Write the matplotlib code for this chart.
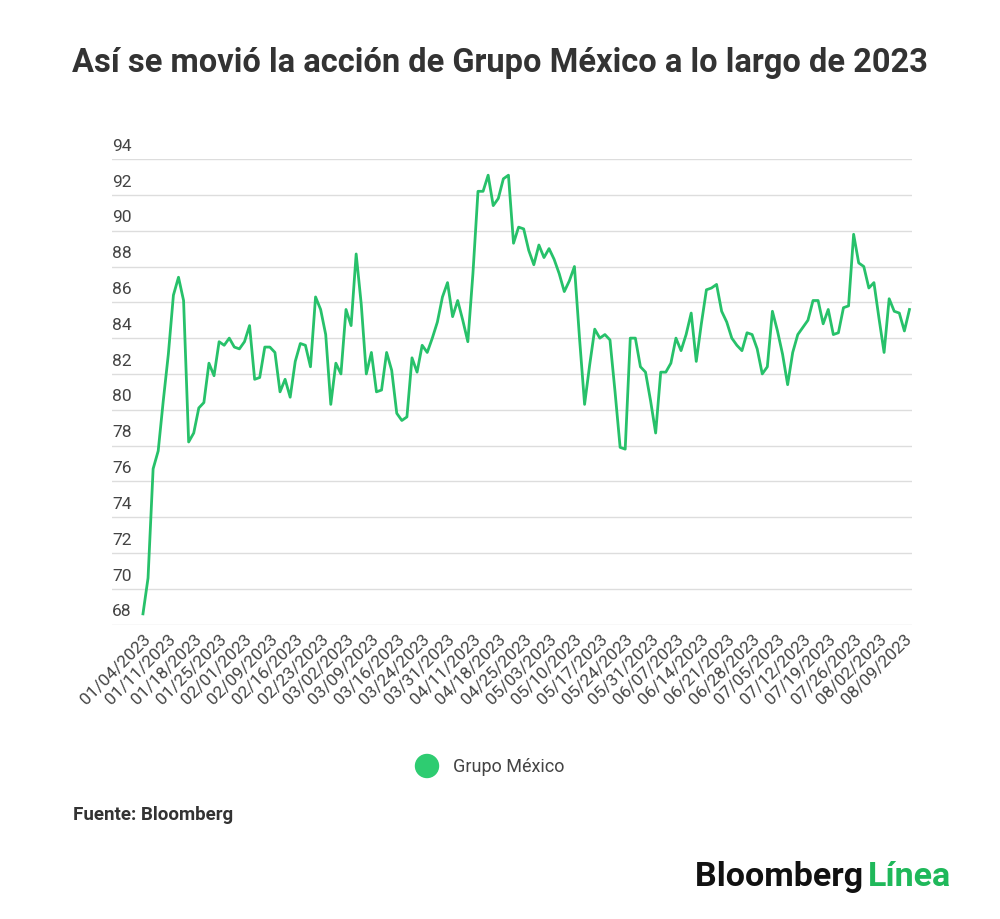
import matplotlib
matplotlib.use("Agg")
import matplotlib.pyplot as plt

values = [68.6,70.6,76.7,77.7,80.5,83.1,86.4,87.4,86.1,78.2,
          78.7,80.1,80.4,82.6,81.9,83.8,83.6,84.0,83.5,83.4,
          83.8,84.7,81.7,81.8,83.5,83.5,83.2,81.0,81.7,80.7,
          82.7,83.7,83.6,82.4,86.3,85.6,84.2,80.3,82.6,82.0,
          85.6,84.7,88.7,85.9,82.0,83.2,81.0,81.1,83.2,82.2,
          79.8,79.4,79.6,82.9,82.1,83.6,83.2,84.0,84.9,86.3,
          87.1,85.2,86.1,85.0,83.8,87.6,92.2,92.2,93.1,91.4,
          91.8,92.9,93.1,
          89.3,90.2,90.1,88.9,88.1,89.2,88.5,89.0,88.4,87.6,
          86.6,87.2,88.0,84.0,80.3,82.5,84.5,84.0,84.2,83.9,
          81.0,77.9,77.8,84.0,84.0,82.4,82.1,80.5,78.7,82.1,
          82.1,82.6,84.0,83.3,84.2,85.4,82.7,84.8,86.7,86.8,
          87.0,85.5,84.9,84.0,83.6,83.3,84.3,84.2,83.4,82.0,
          82.4,85.5,84.4,83.1,81.4,83.2,84.2,84.6,85.0,86.1,
          86.1,84.8,85.6,84.2,84.3,85.7,85.8,89.8,88.2,88.0,
          86.8,87.1,85.1,83.2,86.2,85.5,85.4,84.4,85.6]
tick_labels = ["01/04/2023","01/11/2023","01/18/2023","01/25/2023","02/01/2023",
               "02/09/2023","02/16/2023","02/23/2023","03/02/2023","03/09/2023",
               "03/16/2023","03/24/2023","03/31/2023","04/11/2023","04/18/2023",
               "04/25/2023","05/03/2023","05/10/2023","05/17/2023","05/24/2023",
               "05/31/2023","06/07/2023","06/14/2023","06/21/2023","06/28/2023",
               "07/05/2023","07/12/2023","07/19/2023","07/26/2023","08/02/2023",
               "08/09/2023"]
yticks = list(range(68, 95, 2))
green = "#2ecc71"
line_green = "#27c16a"

plt.rcParams['font.family'] = ['Roboto', 'DejaVu Sans']
fig = plt.figure(figsize=(10, 9.2), dpi=100)
ax = fig.add_axes([0.112, 0.32, 0.8, 0.506])
x = list(range(len(values)))
ax.plot(x, values, color=line_green, lw=2)
ax.set_xlim(-6.1, 151.5)
ax.set_ylim(68, 94)
for v in yticks:
    ax.axhline(v, color="#dddddd", lw=1, zorder=0)
    ax.text(0.0, v + 0.35, str(v), transform=ax.get_yaxis_transform(),
            ha="left", va="bottom", fontsize=12.5, color="#444444")
for s in ax.spines.values():
    s.set_visible(False)
ax.set_yticks([])
ax.set_xticks(range(0, 5 * len(tick_labels), 5))
ax.set_xticklabels(tick_labels, rotation=45, ha="right", rotation_mode="anchor",
                   fontsize=12.5, color="#444444")
ax.tick_params(axis="x", length=0, pad=4)

fig.text(0.5, 0.932, "Así se movió la acción de Grupo México a lo largo de 2023",
         ha="center", va="center", fontsize=23.5, fontweight="bold", color="#333333")
fig.patches.append(matplotlib.patches.Ellipse((0.427, 1 - 767/920), 0.023, 0.023*1000/920,
                   transform=fig.transFigure, color=green))
fig.text(0.453, 1 - 767/920, "Grupo México", ha="left", va="center", fontsize=13, color="#444444")
fig.text(0.073, 1 - 815/920, "Fuente: Bloomberg", ha="left", va="center",
         fontsize=13.5, fontweight="bold", color="#333333")
t = fig.text(0.695, 1 - 877/920, "Bloomberg ", ha="left", va="center",
             fontsize=24.5, fontweight="bold", color="#111111")
fig.canvas.draw()
bb = t.get_window_extent()
fig.text(bb.x1 / fig.bbox.width - 0.004, 1 - 877/920, "Línea", ha="left", va="center",
         fontsize=24.5, fontweight="bold", color="#1fb85a")
fig.savefig("out.png", dpi=100, facecolor="white")
